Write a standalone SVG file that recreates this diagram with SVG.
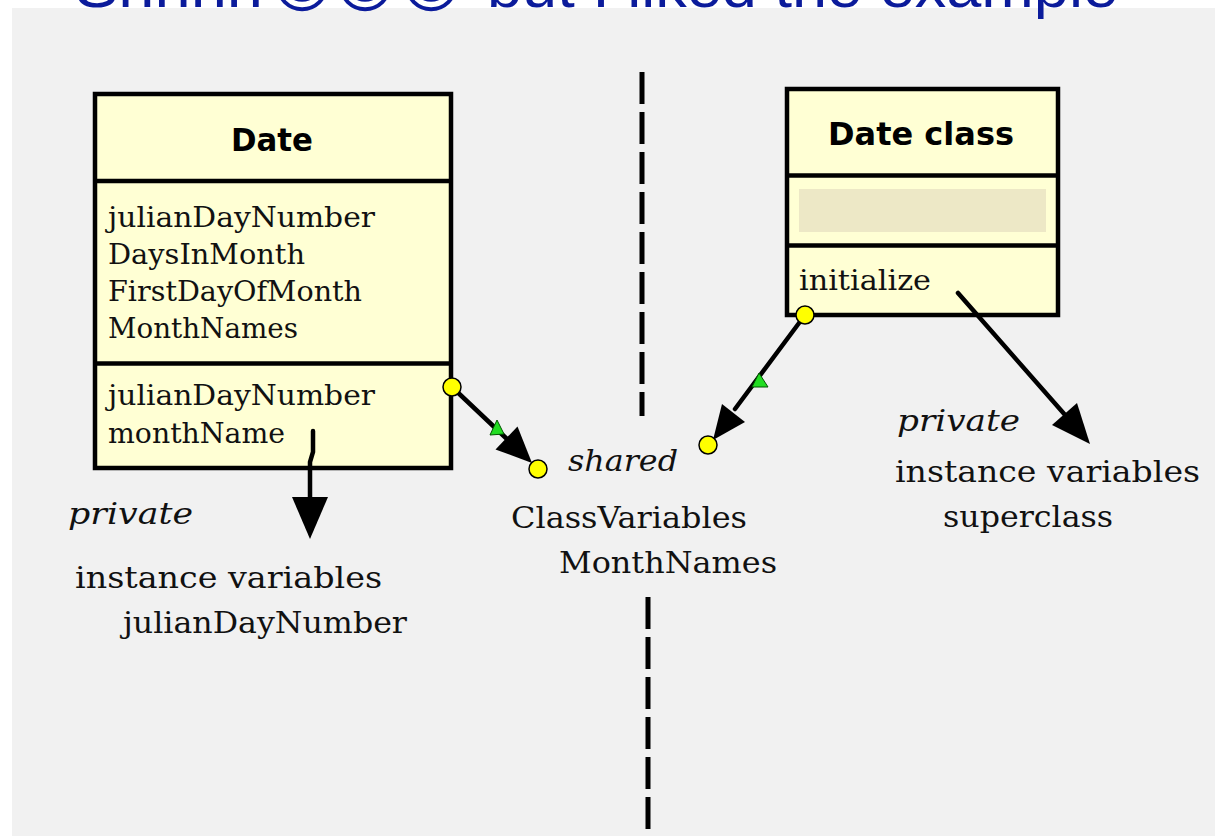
<svg xmlns="http://www.w3.org/2000/svg" width="1215" height="836" viewBox="0 0 1215 836">
  <style>
    .panel { fill: #f1f1f1; }
    .box { fill: #ffffd4; stroke: #000; stroke-width: 4.5; }
    .div { stroke: #000; stroke-width: 4.5; }
    .title { font-family: "DejaVu Sans", "Liberation Sans", sans-serif; font-weight: bold; font-size: 32px; fill: #000; }
    .field { font-family: "DejaVu Serif", "Liberation Serif", serif; font-size: 27px; fill: #111; }
    .label { font-family: "DejaVu Serif", "Liberation Serif", serif; font-size: 30px; fill: #111; }
    .ital { font-family: "DejaVu Serif", "Liberation Serif", serif; font-style: italic; font-size: 29px; fill: #111; }
    .head { font-family: "Liberation Sans", "DejaVu Sans", sans-serif; font-size: 60px; fill: #0b1b9b; }
    .smile { font-family: "DejaVu Sans", sans-serif; font-size: 60px; fill: #0b1b9b; }
    .wire { stroke: #000; stroke-width: 4.5; fill: none; stroke-linecap: round; }
    .dash { stroke: #000; stroke-width: 5; stroke-dasharray: 32 8; fill: none; }
    .head-fill { fill: #000; }
    .port { fill: #ffff00; stroke: #000; stroke-width: 1.5; }
    .flag { fill: #22dd22; stroke: #005500; stroke-width: 1; }
  </style>

  <rect width="1215" height="836" fill="#ffffff"/>
  <rect class="panel" x="12" y="8" width="1203" height="828"/>

  <!-- heading, mostly above the visible area -->
  <g id="heading">
    <text class="head" x="75" y="7" textLength="188" lengthAdjust="spacingAndGlyphs">Shhhh</text>
    <text class="smile" x="302" y="7" text-anchor="middle">☺</text>
    <text class="smile" x="365" y="7" text-anchor="middle">☺</text>
    <text class="smile" x="431" y="7" text-anchor="middle">☺</text>
    <text class="head" x="487" y="7" textLength="631" lengthAdjust="spacingAndGlyphs">but I liked the example</text>
  </g>

  <!-- dividing dashed line -->
  <g id="divider">
    <line class="dash" x1="642" y1="72" x2="642" y2="416"/>
    <line class="dash" x1="648" y1="597" x2="648" y2="830"/>
  </g>

  <!-- Date instance side -->
  <g id="date">
    <rect class="box" x="95" y="94" width="356" height="374"/>
    <line class="div" x1="95" y1="181" x2="451" y2="181"/>
    <line class="div" x1="95" y1="363.5" x2="451" y2="363.5"/>
    <text class="title" x="231" y="151" textLength="82" lengthAdjust="spacingAndGlyphs">Date</text>
    <text class="field" x="108" y="227" textLength="267" lengthAdjust="spacingAndGlyphs">julianDayNumber</text>
    <text class="field" x="108" y="264" textLength="197" lengthAdjust="spacingAndGlyphs">DaysInMonth</text>
    <text class="field" x="108" y="301" textLength="254" lengthAdjust="spacingAndGlyphs">FirstDayOfMonth</text>
    <text class="field" x="108" y="338" textLength="190" lengthAdjust="spacingAndGlyphs">MonthNames</text>
    <text class="field" x="108" y="405" textLength="267" lengthAdjust="spacingAndGlyphs">julianDayNumber</text>
    <text class="field" x="108" y="443" textLength="177" lengthAdjust="spacingAndGlyphs">monthName</text>
  </g>

  <!-- Date class side -->
  <g id="date-class">
    <rect class="box" x="787" y="89" width="271" height="226"/>
    <line class="div" x1="787" y1="175.5" x2="1058" y2="175.5"/>
    <line class="div" x1="787" y1="245.5" x2="1058" y2="245.5"/>
    <rect x="799" y="189" width="247" height="43" fill="#ede8c6"/>
    <text class="title" x="828" y="145" textLength="186" lengthAdjust="spacingAndGlyphs">Date class</text>
    <text class="field" x="799" y="290" textLength="132" lengthAdjust="spacingAndGlyphs">initialize</text>
  </g>

  <!-- shared class variables -->
  <g id="shared">
    <text class="ital" x="568" y="471" textLength="110" lengthAdjust="spacingAndGlyphs">shared</text>
    <text class="label" x="511" y="528" textLength="236" lengthAdjust="spacingAndGlyphs">ClassVariables</text>
    <text class="label" x="559" y="573" textLength="218" lengthAdjust="spacingAndGlyphs">MonthNames</text>
  </g>

  <!-- private instance variables of Date -->
  <g id="instance-private">
    <text class="ital" x="68" y="524" textLength="125" lengthAdjust="spacingAndGlyphs">private</text>
    <text class="label" x="75" y="588" textLength="307" lengthAdjust="spacingAndGlyphs">instance variables</text>
    <text class="label" x="123" y="633" textLength="284" lengthAdjust="spacingAndGlyphs">julianDayNumber</text>
  </g>

  <!-- private instance variables of Date class -->
  <g id="class-private">
    <text class="ital" x="897" y="431" textLength="123" lengthAdjust="spacingAndGlyphs">private</text>
    <text class="label" x="895" y="482" textLength="305" lengthAdjust="spacingAndGlyphs">instance variables</text>
    <text class="label" x="943" y="527" textLength="170" lengthAdjust="spacingAndGlyphs">superclass</text>
  </g>

  <!-- connectors -->
  <g id="connectors">
    <!-- Date methods to shared variables -->
    <line class="wire" x1="452" y1="387" x2="508" y2="440"/>
    <polygon class="head-fill" points="532,463 495.5,449.5 517.5,426.5"/>
    <polygon class="flag" points="497,420 490,435 504,434"/>
    <circle class="port" cx="452" cy="387" r="9"/>
    <circle class="port" cx="538" cy="469" r="9"/>

    <!-- Date class methods to shared variables -->
    <line class="wire" x1="805" y1="315" x2="735" y2="409"/>
    <polygon class="head-fill" points="713,440 745,422 722,404"/>
    <polygon class="flag" points="759,373 752,387 768,387"/>
    <circle class="port" cx="805" cy="315" r="9"/>
    <circle class="port" cx="708" cy="445" r="9"/>

    <!-- Date class to its private variables -->
    <line class="wire" x1="958" y1="293" x2="1066" y2="416"/>
    <polygon class="head-fill" points="1090,444 1052,425 1077,403"/>

    <!-- Date to its private variables -->
    <polyline class="wire" points="313,431 313,452 310,462 310,500"/>
    <polygon class="head-fill" points="292,497 328,497 310,539"/>
  </g>
</svg>
